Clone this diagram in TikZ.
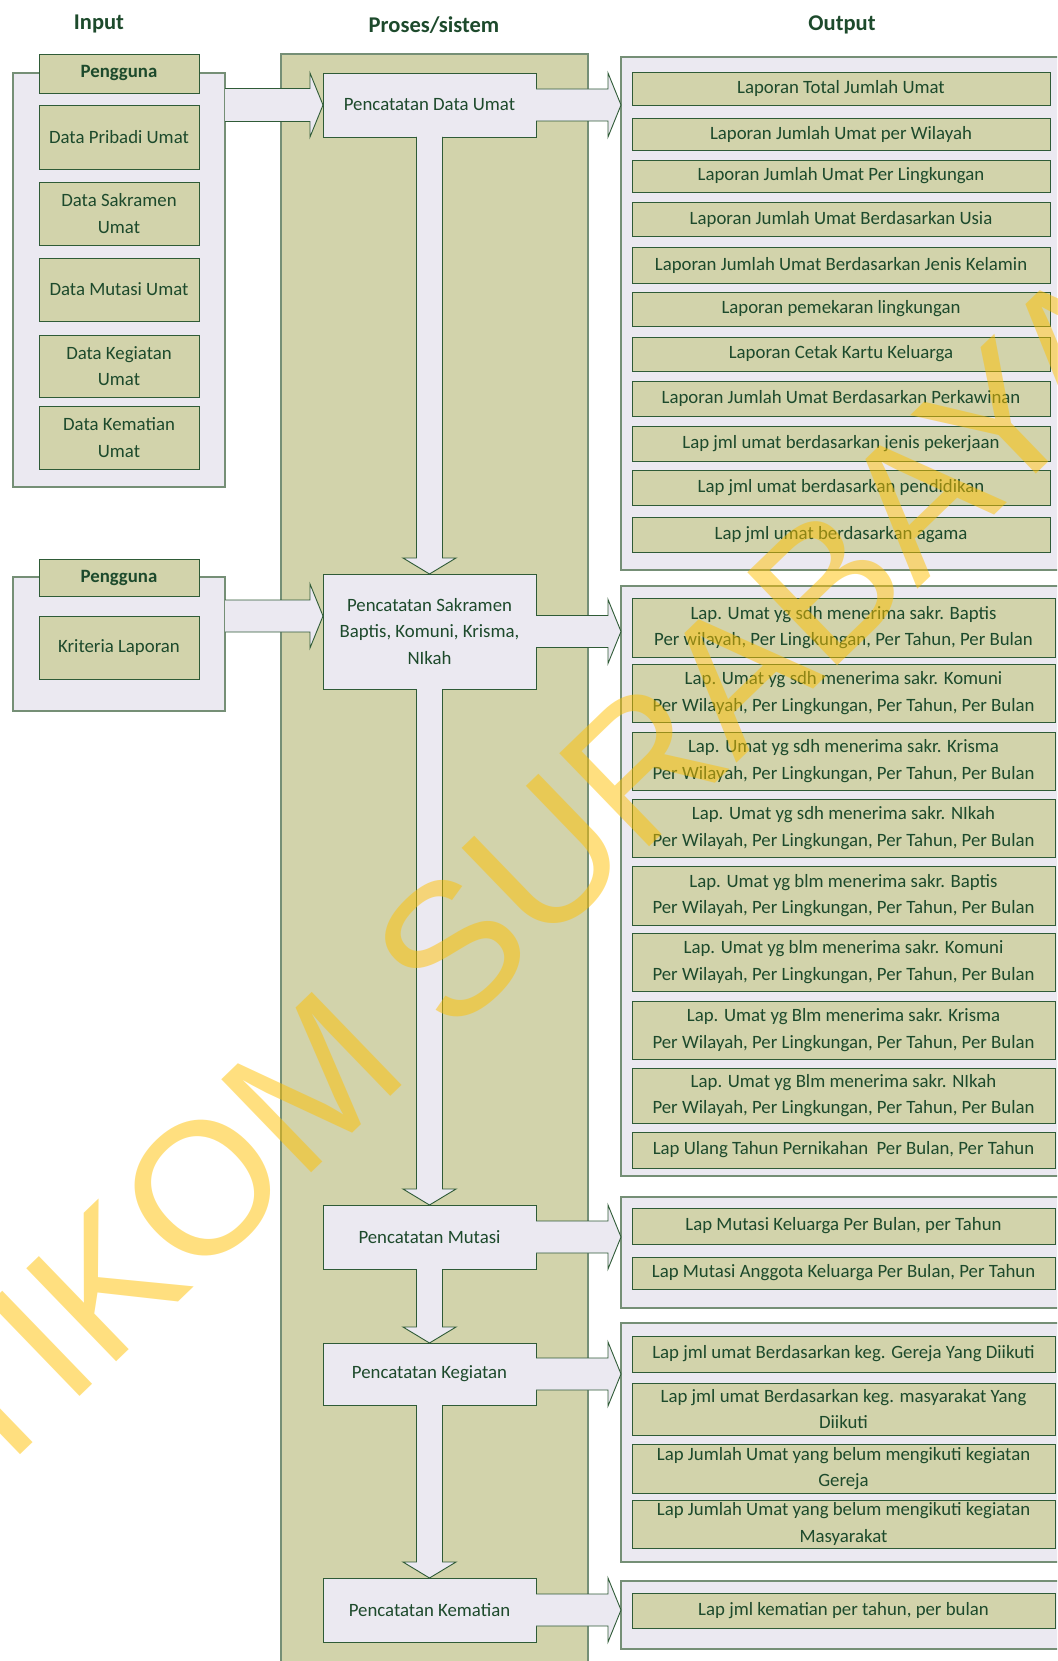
\documentclass[tikz,border=0pt]{standalone}
\usepackage{fontspec}
\setmainfont{Carlito}
\newfontfamily\wmfont{Liberation Sans}
\usetikzlibrary{calc}
\definecolor{gfill}{HTML}{D2D3AB}
\definecolor{lav}{HTML}{EBE9F1}
\definecolor{dline}{HTML}{2F5B37}
\definecolor{oline}{HTML}{758F76}
\definecolor{txt}{HTML}{1D4A2C}
\definecolor{wm}{HTML}{FFC000}
\begin{document}
\begin{tikzpicture}[x=1pt,y=-1pt,
  base/.style={rectangle, inner sep=0pt, outer sep=0pt, text=txt, align=center, font=\fontsize{18.8}{26.5}\selectfont},
  gbox/.style={base, draw=dline, fill=gfill, line width=0.9pt},
  pbox/.style={base, draw=dline, fill=lav, line width=0.9pt, minimum width=213pt},
  obox/.style={base, draw=oline, fill=lav, line width=1.3pt},
  ibox/.style={gbox, minimum width=160pt},
  hbox/.style={gbox, minimum width=160pt, font=\fontsize{18.8}{22}\selectfont\bfseries},
  rone/.style={gbox, minimum width=418pt},
  rtwo/.style={gbox, minimum width=423pt},
  title/.style={inner sep=0pt, text=txt, font=\fontsize{22.5}{27}\selectfont\bfseries},
  barrow/.style={draw=dline, fill=lav, line width=0.9pt, line join=miter},
  column/.style={draw=oline, fill=gfill, line width=1.2pt},
  watermark/.style={rotate=44, anchor=base west, inner sep=0pt, text=wm, opacity=0.5, font=\wmfont\fontsize{188}{188}\selectfont},
]
\useasboundingbox (0,0) rectangle (1057,1661);
\clip (0,0) rectangle (1057,1661);

% titles
\node[title] (tin) at (99,24) {Input};
\node[title] (tpr) at (434,25) {Proses/sistem};
\node[title] (tout) at (842,25) {Output};

% process column
\node[column, base, minimum width=307pt, minimum height=1620pt] (col) at (434.5,864) {};

% input group 1
\node[obox, minimum width=212pt, minimum height=414pt] (I1) at (119,280) {};
\node[hbox, minimum height=39pt] (H1) at (119,73.5) {Pengguna};
\node[ibox, minimum height=64pt] (dpu) at (119,137) {Data Pribadi Umat};
\node[ibox, minimum height=63pt] (dsu) at (119,213.5) {Data Sakramen\\Umat};
\node[ibox, minimum height=63pt] (dmu) at (119,289.5) {Data Mutasi Umat};
\node[ibox, minimum height=62pt] (dku) at (119,366) {Data Kegiatan\\Umat};
\node[ibox, minimum height=63pt] (dkm) at (119,437.5) {Data Kematian\\Umat};

% input group 2
\node[obox, minimum width=212pt, minimum height=134pt] (I2) at (119,644) {};
\node[hbox, minimum height=37pt] (H2) at (119,577.5) {Pengguna};
\node[ibox, minimum height=63pt] (krl) at (119,647.5) {Kriteria Laporan};

% process boxes
\node[pbox, minimum height=64pt] (P1) at (429.5,105) {Pencatatan Data Umat};
\node[pbox, minimum height=115pt] (P2) at (429.5,631.5) {Pencatatan Sakramen\\Baptis, Komuni, Krisma,\\NIkah};
\node[pbox, minimum height=64pt] (P3) at (429.5,1237) {Pencatatan Mutasi};
\node[pbox, minimum height=62pt] (P4) at (429.5,1374) {Pencatatan Kegiatan};
\node[pbox, minimum height=64pt] (P5) at (429.5,1610) {Pencatatan Kematian};

% output groups
\node[obox, minimum width=454pt, minimum height=513pt] (G1) at (848,313.5) {};
\node[obox, minimum width=454pt, minimum height=590pt] (G2) at (848,881) {};
\node[obox, minimum width=454pt, minimum height=111pt] (G3) at (848,1252.5) {};
\node[obox, minimum width=454pt, minimum height=239pt] (G4) at (848,1442.5) {};
\node[obox, minimum width=454pt, minimum height=68pt] (G5) at (848,1615) {};

% group 1 items
\node[rone, minimum height=33pt] (o11) at (841,88.5) {Laporan Total Jumlah Umat};
\node[rone, minimum height=32pt] (o12) at (841,134) {Laporan Jumlah Umat per Wilayah};
\node[rone, minimum height=32pt] (o13) at (841,176) {Laporan Jumlah Umat Per Lingkungan};
\node[rone, minimum height=34pt] (o14) at (841,219) {Laporan Jumlah Umat Berdasarkan Usia};
\node[rone, minimum height=36pt] (o15) at (841,265) {Laporan Jumlah Umat Berdasarkan Jenis Kelamin};
\node[rone, minimum height=34pt] (o16) at (841,309) {Laporan pemekaran lingkungan};
\node[rone, minimum height=34pt] (o17) at (841,354) {Laporan Cetak Kartu Keluarga};
\node[rone, minimum height=35pt] (o18) at (841,398.5) {Laporan Jumlah Umat Berdasarkan Perkawinan};
\node[rone, minimum height=35pt] (o19) at (841,443.5) {Lap jml umat berdasarkan jenis pekerjaan};
\node[rone, minimum height=35pt] (o110) at (841,487.5) {Lap jml umat berdasarkan pendidikan};
\node[rone, minimum height=35pt] (o111) at (841,534.5) {Lap jml umat berdasarkan agama};

% group 2 items
\node[rtwo, minimum height=59pt] (o21) at (843.5,627.5) {Lap. Umat yg sdh menerima sakr. Baptis\\Per wilayah, Per Lingkungan, Per Tahun, Per Bulan};
\node[rtwo, minimum height=58pt] (o22) at (843.5,693) {Lap. Umat yg sdh menerima sakr. Komuni\\Per Wilayah, Per Lingkungan, Per Tahun, Per Bulan};
\node[rtwo, minimum height=58pt] (o23) at (843.5,761) {Lap. Umat yg sdh menerima sakr. Krisma\\Per Wilayah, Per Lingkungan, Per Tahun, Per Bulan};
\node[rtwo, minimum height=58pt] (o24) at (843.5,828) {Lap. Umat yg sdh menerima sakr. NIkah\\Per Wilayah, Per Lingkungan, Per Tahun, Per Bulan};
\node[rtwo, minimum height=59pt] (o25) at (843.5,895.5) {Lap. Umat yg blm menerima sakr. Baptis\\Per Wilayah, Per Lingkungan, Per Tahun, Per Bulan};
\node[rtwo, minimum height=58pt] (o26) at (843.5,962) {Lap. Umat yg blm menerima sakr. Komuni\\Per Wilayah, Per Lingkungan, Per Tahun, Per Bulan};
\node[rtwo, minimum height=58pt] (o27) at (843.5,1030) {Lap. Umat yg Blm menerima sakr. Krisma\\Per Wilayah, Per Lingkungan, Per Tahun, Per Bulan};
\node[rtwo, minimum height=55pt] (o28) at (843.5,1095.5) {Lap. Umat yg Blm menerima sakr. NIkah\\Per Wilayah, Per Lingkungan, Per Tahun, Per Bulan};
\node[rtwo, minimum height=36pt] (o29) at (843.5,1150) {Lap Ulang Tahun Pernikahan\ \ Per Bulan, Per Tahun};

% group 3 items
\node[rtwo, minimum height=36pt] (o31) at (843.5,1226) {Lap Mutasi Keluarga Per Bulan, per Tahun};
\node[rtwo, minimum height=32pt] (o32) at (843.5,1273) {Lap Mutasi Anggota Keluarga Per Bulan, Per Tahun};

% group 4 items
\node[rtwo, minimum height=36pt] (o41) at (843.5,1354) {Lap jml umat Berdasarkan keg. Gereja Yang Diikuti};
\node[rtwo, minimum height=52pt] (o42) at (843.5,1409) {Lap jml umat Berdasarkan keg. masyarakat Yang\\Diikuti};
\node[rtwo, minimum height=49pt] (o43) at (843.5,1468.5) {Lap Jumlah Umat yang belum mengikuti kegiatan\\Gereja};
\node[rtwo, minimum height=48pt] (o44) at (843.5,1524) {Lap Jumlah Umat yang belum mengikuti kegiatan\\Masyarakat};

% group 5 item
\node[rtwo, minimum height=35pt] (o51) at (843.5,1610.5) {Lap jml kematian per tahun, per bulan};

% input arrows
\coordinate (ia1t) at (P1.west);
\coordinate (ia1s) at (ia1t -| I1.east);
\path[barrow] ($(ia1s)+(0,-16.5)$) -- ($(ia1t)+(-13,-16.5)$) -- ($(ia1t)+(-13,-32)$) -- (ia1t) -- ($(ia1t)+(-13,32)$) -- ($(ia1t)+(-13,16.5)$) -- ($(ia1s)+(0,16.5)$);
\coordinate (ia2t) at ($(P2.west)+(0,-15.5)$);
\coordinate (ia2s) at (ia2t -| I2.east);
\path[barrow] ($(ia2s)+(0,-16)$) -- ($(ia2t)+(-13,-16)$) -- ($(ia2t)+(-13,-32)$) -- (ia2t) -- ($(ia2t)+(-13,32)$) -- ($(ia2t)+(-13,16)$) -- ($(ia2s)+(0,16)$);

% down arrows
\foreach \a/\b in {P1/P2,P2/P3,P3/P4,P4/P5}{
  \path[barrow] ($(\a.south)+(-13,0)$) -- ($(\b.north)+(-13,-16)$) -- ($(\b.north)+(-26.5,-16)$) -- (\b.north) -- ($(\b.north)+(26.5,-16)$) -- ($(\b.north)+(13,-16)$) -- ($(\a.south)+(13,0)$);
}

% output arrows
\foreach \p/\g in {P1/G1,P2/G2,P3/G3,P4/G4,P5/G5}{
  \coordinate (t\p) at (\p.east -| \g.west);
  \path[barrow] ($(\p.east)+(0,-16)$) -- ($(t\p)+(-13,-16)$) -- ($(t\p)+(-13,-32)$) -- (t\p) -- ($(t\p)+(-13,32)$) -- ($(t\p)+(-13,16)$) -- ($(\p.east)+(0,16)$);
}

% watermark
\node[watermark] (wmark) at (-105,1576) {STIKOM SURABAYA};
\end{tikzpicture}
\end{document}
